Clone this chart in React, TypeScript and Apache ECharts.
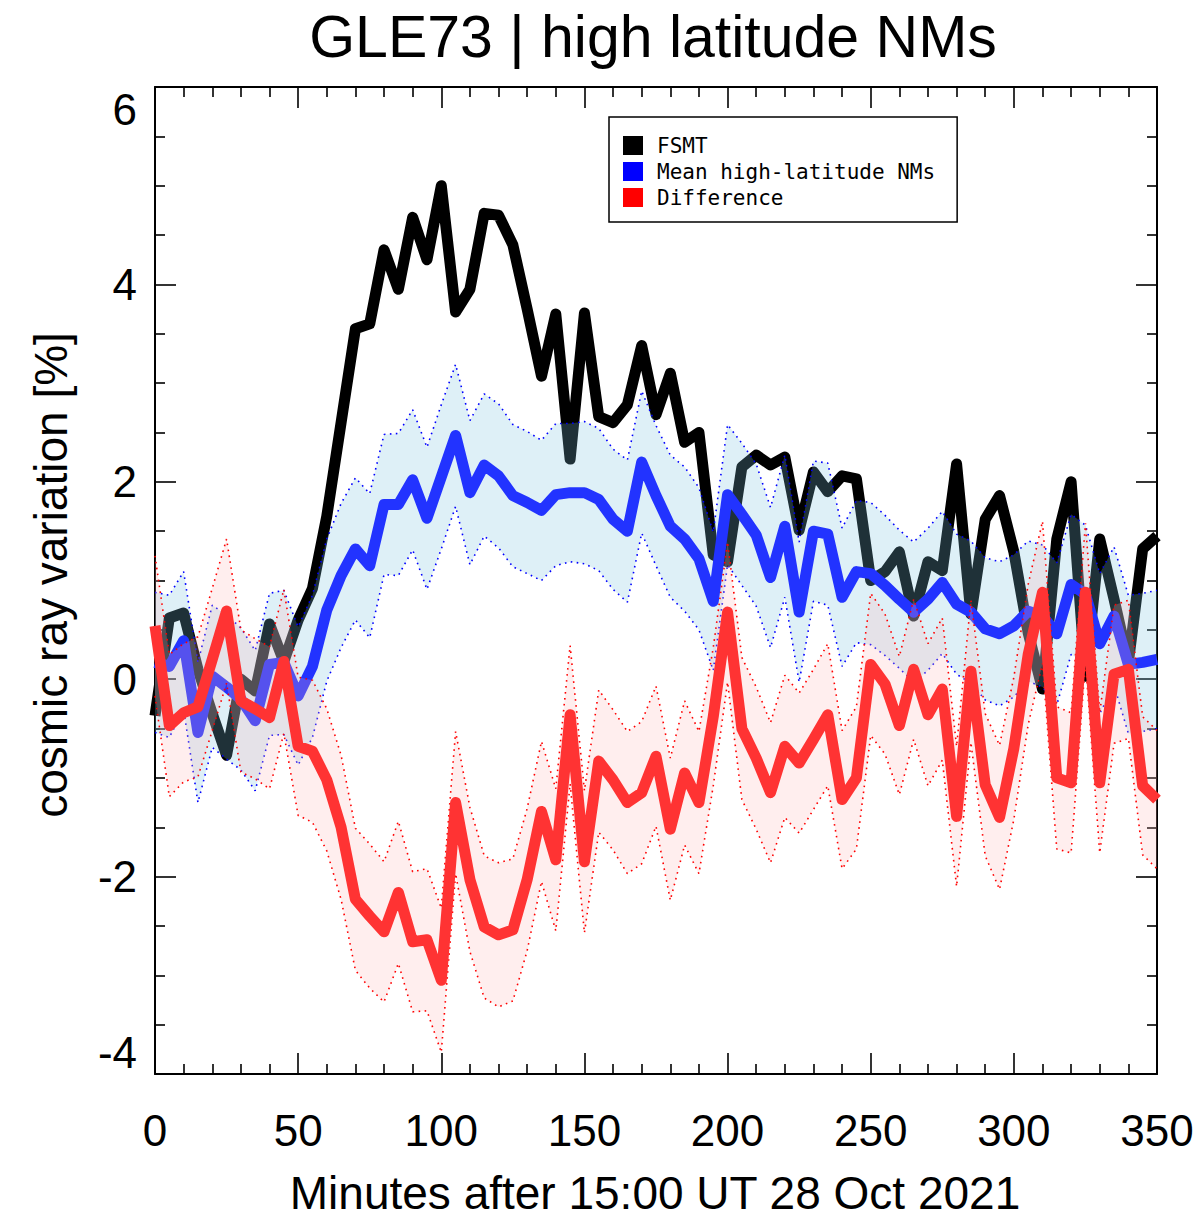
import React, { useEffect, useRef } from "react";
import * as echarts from "echarts";

const minutes = [
  0, 5, 10, 15, 20, 25, 30, 35, 40, 45, 50, 55, 60, 65, 70, 75, 80, 85, 90, 95,
  100, 105, 110, 115, 120, 125, 130, 135, 140, 145, 150, 155, 160, 165, 170, 175,
  180, 185, 190, 195, 200, 205, 210, 215, 220, 225, 230, 235, 240, 245, 250, 255,
  260, 265, 270, 275, 280, 285, 290, 295, 300, 305, 310, 315, 320, 325, 330, 335,
  340, 345, 350,
];

const fsmt = [
  -0.37, 0.62, 0.67, 0.1, -0.35, -0.77, 0.0, -0.12, 0.56, 0.18,
  0.6, 0.92, 1.65, 2.6, 3.55, 3.6, 4.35, 3.95, 4.68, 4.25,
  5.0, 3.72, 3.95, 4.72, 4.7, 4.4, 3.75, 3.07, 3.7, 2.23,
  3.71, 2.66, 2.6, 2.78, 3.38, 2.68, 3.1, 2.4, 2.5, 1.26,
  1.19, 2.15, 2.27, 2.17, 2.25, 1.51, 2.1, 1.9, 2.06, 2.03,
  1.0, 1.09, 1.29, 0.64, 1.19, 1.1, 2.18, 0.66, 1.62, 1.86,
  1.29, 0.47, -0.1, 1.42, 2.0, 0.03, 1.42, 0.81, 0.17, 1.32,
  1.45,
];

const meanNM = [
  0.17, 0.13, 0.39, -0.54, 0.03, -0.08, -0.2, -0.42, 0.15, 0.17,
  -0.17, 0.13, 0.7, 1.05, 1.32, 1.15, 1.77, 1.77, 2.02, 1.63,
  2.05, 2.47, 1.89, 2.17, 2.06, 1.86, 1.79, 1.71, 1.87, 1.89,
  1.89, 1.82, 1.62, 1.5, 2.2, 1.86, 1.55, 1.42, 1.22, 0.79,
  1.87, 1.67, 1.46, 1.03, 1.55, 0.68, 1.5, 1.47, 0.83, 1.09,
  1.07, 0.95, 0.81, 0.68, 0.81, 0.98, 0.76, 0.68, 0.51, 0.46,
  0.54, 0.69, 0.64, 0.46, 0.96, 0.86, 0.36, 0.64, 0.15, 0.17,
  0.2,
];

const difference = [
  0.54, -0.47, -0.34, -0.28, 0.2, 0.69, -0.22, -0.3, -0.39, 0.18,
  -0.68, -0.73, -1.02, -1.5, -2.23, -2.4, -2.56, -2.16, -2.66, -2.64,
  -3.05, -1.25, -2.03, -2.51, -2.59, -2.54, -2.03, -1.34, -1.83, -0.36,
  -1.85, -0.83, -1.02, -1.25, -1.15, -0.78, -1.52, -0.95, -1.25, -0.38,
  0.68, -0.5, -0.8, -1.15, -0.68, -0.85, -0.61, -0.36, -1.22, -1.0,
  0.15, -0.05, -0.47, 0.1, -0.36, -0.1, -1.39, 0.08, -1.07, -1.4,
  -0.7, 0.25, 0.88, -1.0, -1.05, 0.88, -1.05, 0.05, 0.1, -1.08,
  -1.22,
];

// spread (1 sigma) of the high-latitude NM mean, used for both bands
const sigma = [
  0.71, 0.72, 0.7, 0.71, 0.72, 0.73, 0.72, 0.71, 0.72, 0.73,
  0.7, 0.72, 0.72, 0.73, 0.72, 0.73, 0.71, 0.72, 0.71, 0.72,
  0.73, 0.72, 0.73, 0.72, 0.73, 0.72, 0.72, 0.71, 0.72, 0.7,
  0.72, 0.72, 0.71, 0.72, 0.72, 0.71, 0.72, 0.73, 0.72, 0.7,
  0.71, 0.72, 0.72, 0.71, 0.72, 0.71, 0.71, 0.72, 0.7, 0.72,
  0.72, 0.71, 0.7, 0.71, 0.72, 0.72, 0.71, 0.72, 0.72, 0.73,
  0.72, 0.71, 0.72, 0.72, 0.71, 0.7, 0.71, 0.7, 0.7, 0.7,
  0.7,
];

const seriesNames = ["FSMT", "Mean high-latitude NMs", "Difference"];
const titleText = "GLE73 | high latitude NMs";
const xName = "Minutes after 15:00 UT 28 Oct 2021";
const yName = "cosmic ray variation [%]";

const FONT = '"Liberation Sans", Arial, Helvetica, sans-serif';

function axisCommon(showLabel: boolean, isX: boolean) {
  return {
    type: "value",
    min: isX ? 0 : -4,
    max: isX ? 350 : 6,
    interval: isX ? 50 : 2,
    axisLine: { show: true, onZero: false, lineStyle: { color: "#000", width: 2 } },
    axisTick: { show: true, inside: true, length: 21, lineStyle: { color: "#000", width: 1.6 } },
    minorTick: {
      show: true,
      splitNumber: isX ? 5 : 4,
      length: 10,
      lineStyle: { color: "#000", width: 1.6 },
    },
    splitLine: { show: false },
    minorSplitLine: { show: false },
    axisLabel: showLabel
      ? {
          show: true,
          color: "#000",
          fontFamily: FONT,
          fontSize: 44,
          margin: isX ? 34 : 18,
          ...(isX
            ? {}
            : { verticalAlignMaxLabel: "top", verticalAlignMinLabel: "bottom" }),
        }
      : { show: false },
  };
}

function bandSeries(mean: number[], fill: string, z: number) {
  return {
    type: "custom",
    coordinateSystem: "cartesian2d",
    xAxisIndex: 0,
    yAxisIndex: 0,
    z,
    silent: true,
    data: minutes.map((t, i) => [t, mean[i] + sigma[i], mean[i] - sigma[i]]),
    encode: { x: 0, y: [1, 2] },
    renderItem: (params: any, api: any) => {
      if (params.dataIndex !== 0) return null;
      const pts: number[][] = [];
      for (let i = 0; i < minutes.length; i++) pts.push(api.coord([minutes[i], mean[i] + sigma[i]]));
      for (let i = minutes.length - 1; i >= 0; i--) pts.push(api.coord([minutes[i], mean[i] - sigma[i]]));
      return { type: "polygon", shape: { points: pts }, style: { fill } };
    },
  };
}

function edgeSeries(mean: number[], sign: number, color: string, z: number) {
  return {
    type: "line",
    xAxisIndex: 0,
    yAxisIndex: 0,
    z,
    silent: true,
    symbol: "none",
    showSymbol: false,
    emphasis: { disabled: true },
    data: minutes.map((t, i) => [t, mean[i] + sign * sigma[i]]),
    lineStyle: { color, width: 1.6, type: [1.6, 4.4] },
  };
}

function mainSeries(name: string, values: number[], color: string, z: number) {
  return {
    name,
    type: "line",
    xAxisIndex: 0,
    yAxisIndex: 0,
    z,
    symbol: "none",
    showSymbol: false,
    emphasis: { disabled: true },
    color,
    itemStyle: { color },
    data: minutes.map((t, i) => [t, values[i]]),
    lineStyle: { color, width: 11, join: "round", cap: "butt" },
  };
}

export default function App() {
  const ref = useRef<HTMLDivElement>(null);

  useEffect(() => {
    if (!ref.current) return;
    const chart = echarts.init(ref.current, undefined, { renderer: "svg" });
    const option: any = {
      animation: false,
      backgroundColor: "#ffffff",
      grid: { left: 155, right: 43, top: 87, bottom: 151, containLabel: false },
      xAxis: [
        { ...axisCommon(true, true), position: "bottom" },
        { ...axisCommon(false, true), position: "top" },
      ],
      yAxis: [
        { ...axisCommon(true, false), position: "left" },
        { ...axisCommon(false, false), position: "right" },
      ],
      legend: {
        show: true,
        orient: "vertical",
        left: 609,
        top: 117,
        icon: "rect",
        itemWidth: 20,
        itemHeight: 19,
        itemGap: 5,
        selectedMode: false,
        borderColor: "#000",
        borderWidth: 1.5,
        padding: [18, 22, 14, 14],
        itemStyle: { borderWidth: 0 },
        textStyle: {
          fontFamily: '"DejaVu Sans Mono", monospace',
          fontSize: 21,
          color: "#000",
          padding: [0, 0, 0, 9],
        },
        data: [
          { name: seriesNames[0], itemStyle: { color: "#000000" } },
          { name: seriesNames[1], itemStyle: { color: "#0000ff" } },
          { name: seriesNames[2], itemStyle: { color: "#ff0000" } },
        ],
      },
      graphic: [
        {
          type: "text",
          x: 653,
          y: 37,
          style: {
            text: titleText,
            fontFamily: FONT,
            fontSize: 59,
            fill: "#000",
            align: "center",
            verticalAlign: "middle",
          },
        },
        {
          type: "text",
          x: 655,
          y: 1193,
          style: {
            text: xName,
            fontFamily: FONT,
            fontSize: 46,
            fill: "#000",
            align: "center",
            verticalAlign: "middle",
          },
        },
        {
          type: "text",
          x: 51,
          y: 575,
          rotation: Math.PI / 2,
          style: {
            text: yName,
            fontFamily: FONT,
            fontSize: 46,
            fill: "#000",
            align: "center",
            verticalAlign: "middle",
          },
        },
      ],
      series: [
        mainSeries(seriesNames[0], fsmt, "#000000", 2),
        bandSeries(meanNM, "rgba(125,195,225,0.25)", 3),
        edgeSeries(meanNM, 1, "#0000ff", 3),
        edgeSeries(meanNM, -1, "#0000ff", 3),
        mainSeries(seriesNames[1], meanNM, "#2233ff", 4),
        bandSeries(difference, "rgba(255,181,181,0.23)", 5),
        edgeSeries(difference, 1, "#ff0000", 5),
        edgeSeries(difference, -1, "#ff0000", 5),
        mainSeries(seriesNames[2], difference, "#ff3333", 6),
      ],
    };
    chart.setOption(option);
    return () => {
      chart.dispose();
    };
  }, []);

  return (
    <div
      ref={ref}
      style={{ position: "absolute", left: 0, top: 0, width: 1200, height: 1225 }}
    />
  );
}
